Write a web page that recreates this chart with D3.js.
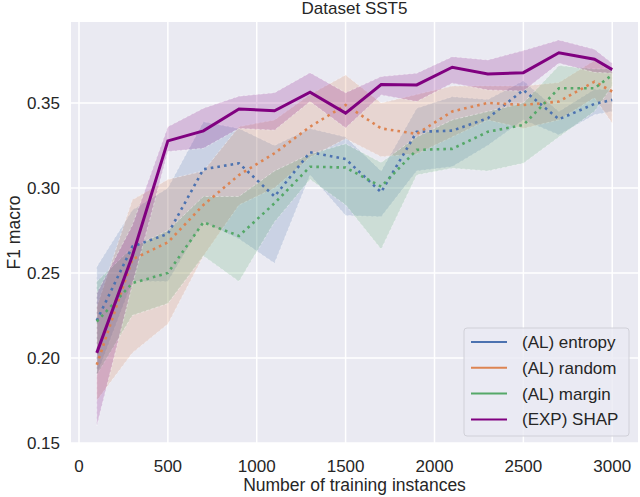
<!DOCTYPE html>
<html>
<head>
    <title>Dataset SST5</title>
    <script src="https://d3js.org/d3.v7.min.js"></script>
    <style>
        body { margin: 0; background: #fff; }
        text { font-family: "Liberation Sans", Arial, sans-serif; fill: #262626; }
        .band { stroke: #fff; stroke-opacity: 0.4; stroke-width: 1; stroke-dasharray: 3,2; }
        .line { fill: none; }
    </style>
</head>
<body>
    <div id="chart"></div>
    <script>
        // x values (training instances)
        const sizes = [100, 300, 500, 700, 900, 1100, 1300, 1500, 1700, 1900, 2100, 2300, 2500, 2700, 2900, 3000];

        // mean F1 per series
        const entropy = [0.222, 0.2655, 0.273, 0.311, 0.3145, 0.295, 0.321, 0.317, 0.2975, 0.333, 0.3337, 0.341, 0.3576, 0.3404, 0.3494, 0.3518];
        const random  = [0.196, 0.258, 0.268, 0.29, 0.3076, 0.3204, 0.336, 0.3488, 0.335, 0.3318, 0.345, 0.350, 0.3488, 0.3508, 0.3625, 0.3567];
        const margin  = [0.2214, 0.244, 0.250, 0.2798, 0.2718, 0.291, 0.3125, 0.312, 0.3008, 0.3224, 0.323, 0.333, 0.337, 0.3586, 0.3586, 0.3665];
        const shap    = [0.203, 0.26, 0.3277, 0.3336, 0.3464, 0.3454, 0.3563, 0.344, 0.3608, 0.3606, 0.371, 0.367, 0.3678, 0.3795, 0.3757, 0.3696];

        // confidence bands (low / high)
        const entropyLo = [0.19, 0.245, 0.245, 0.28, 0.27, 0.2557, 0.3076, 0.2838, 0.283, 0.31, 0.3125, 0.325, 0.34, 0.3312, 0.343, 0.345];
        const entropyHi = [0.2537, 0.287, 0.30, 0.339, 0.335, 0.325, 0.335, 0.33, 0.31, 0.3469, 0.3537, 0.352, 0.363, 0.345, 0.358, 0.358];
        const randomLo  = [0.175, 0.203, 0.22, 0.26, 0.29, 0.30, 0.318, 0.329, 0.3184, 0.32, 0.33, 0.34, 0.335, 0.34, 0.353, 0.338];
        const randomHi  = [0.23, 0.293, 0.305, 0.31, 0.336, 0.34, 0.355, 0.3665, 0.35, 0.355, 0.36, 0.36, 0.36, 0.362, 0.375, 0.368];
        const marginLo  = [0.19, 0.225, 0.232, 0.26, 0.245, 0.28, 0.305, 0.29, 0.264, 0.3076, 0.3116, 0.31, 0.3145, 0.33, 0.345, 0.36];
        const marginHi  = [0.245, 0.265, 0.275, 0.295, 0.295, 0.31, 0.32, 0.326, 0.315, 0.33, 0.34, 0.345, 0.35, 0.372, 0.37, 0.37];
        const shapLo    = [0.16, 0.243, 0.3214, 0.3233, 0.335, 0.334, 0.3508, 0.3353, 0.3547, 0.3508, 0.3616, 0.3576, 0.357, 0.3733, 0.368, 0.3675];
        const shapHi    = [0.238, 0.278, 0.336, 0.3469, 0.354, 0.356, 0.3678, 0.356, 0.3655, 0.3675, 0.3772, 0.3753, 0.3808, 0.387, 0.3816, 0.3733];

        const seriesNames = ["(AL) entropy", "(AL) random", "(AL) margin", "(EXP) SHAP"];
        const colors = ["#4C72B0", "#DD8452", "#55A868", "#800080"];

        const xTicks = [0, 500, 1000, 1500, 2000, 2500, 3000];
        const yTicks = [0.15, 0.20, 0.25, 0.30, 0.35];

        const series = [
            {name: seriesNames[0], mean: entropy, lo: entropyLo, hi: entropyHi, color: colors[0], dotted: true},
            {name: seriesNames[1], mean: random,  lo: randomLo,  hi: randomHi,  color: colors[1], dotted: true},
            {name: seriesNames[2], mean: margin,  lo: marginLo,  hi: marginHi,  color: colors[2], dotted: true},
            {name: seriesNames[3], mean: shap,    lo: shapLo,    hi: shapHi,    color: colors[3], dotted: false}
        ];

        const W = 640, H = 497;
        const plot = {left: 71, right: 638, top: 22, bottom: 443};

        const svg = d3.select("#chart")
            .append("svg")
            .attr("width", W)
            .attr("height", H);

        const x = d3.scaleLinear().domain([-45, 3145]).range([plot.left, plot.right]);
        const y = d3.scaleLinear().domain([0.15, 0.3976]).range([plot.bottom, plot.top]);

        // background
        svg.append("rect")
            .attr("x", plot.left).attr("y", plot.top)
            .attr("width", plot.right - plot.left)
            .attr("height", plot.bottom - plot.top)
            .attr("fill", "#EAEAF2");

        // grid
        const grid = svg.append("g");
        grid.selectAll(".gx").data(xTicks).join("line")
            .attr("x1", d => x(d)).attr("x2", d => x(d))
            .attr("y1", plot.top).attr("y2", plot.bottom)
            .attr("stroke", "#fff").attr("stroke-width", 1.5);
        grid.selectAll(".gy").data(yTicks).join("line")
            .attr("y1", d => y(d)).attr("y2", d => y(d))
            .attr("x1", plot.left).attr("x2", plot.right)
            .attr("stroke", "#fff").attr("stroke-width", 1.5);

        // tick labels
        svg.append("g").selectAll("text").data(xTicks).join("text")
            .attr("x", d => x(d)).attr("y", 472)
            .attr("text-anchor", "middle")
            .style("font-size", "17px")
            .text(d => d);
        svg.append("g").selectAll("text").data(yTicks).join("text")
            .attr("x", 60).attr("y", d => y(d)).attr("dy", "0.35em")
            .attr("text-anchor", "end")
            .style("font-size", "17px")
            .text(d => d3.format(".2f")(d));

        // titles
        svg.append("text").attr("x", (plot.left + plot.right) / 2).attr("y", 14)
            .attr("text-anchor", "middle").style("font-size", "17px")
            .text("Dataset SST5");
        svg.append("text").attr("x", (plot.left + plot.right) / 2).attr("y", 491)
            .attr("text-anchor", "middle").style("font-size", "17.5px")
            .text("Number of training instances");
        svg.append("text")
            .attr("transform", `translate(20,${(plot.top + plot.bottom) / 2}) rotate(-90)`)
            .attr("text-anchor", "middle").style("font-size", "17.5px")
            .text("F1 macro");

        const area = d3.area()
            .x((d, i) => x(sizes[i]))
            .y0(d => y(d[0]))
            .y1(d => y(d[1]));
        const line = d3.line()
            .x((d, i) => x(sizes[i]))
            .y(d => y(d));

        const marks = svg.append("g");
        series.forEach(s => {
            marks.append("path")
                .attr("class", "band")
                .attr("d", area(s.lo.map((v, i) => [v, s.hi[i]])))
                .attr("fill", s.color)
                .attr("fill-opacity", 0.2);
        });
        series.forEach(s => {
            marks.append("path")
                .attr("class", "line")
                .attr("d", line(s.mean))
                .attr("stroke", s.color)
                .attr("stroke-width", s.dotted ? 2.6 : 3)
                .attr("stroke-dasharray", s.dotted ? "2.6,4.1" : null);
        });

        // legend
        const lg = svg.append("g").attr("transform", "translate(464,328)");
        lg.append("rect")
            .attr("width", 165).attr("height", 108).attr("rx", 3)
            .attr("fill", "#EAEAF2").attr("fill-opacity", 0.8)
            .attr("stroke", "#d0d0d8");
        const item = lg.selectAll(".item").data(series).join("g")
            .attr("transform", (d, i) => `translate(0,${14 + i * 25.8})`);
        item.append("line")
            .attr("x1", 7).attr("x2", 43)
            .attr("stroke", d => d.color).attr("stroke-width", 2);
        item.append("text")
            .attr("x", 58).attr("dy", "0.35em")
            .style("font-size", "17px")
            .text(d => d.name);
    </script>
</body>
</html>
